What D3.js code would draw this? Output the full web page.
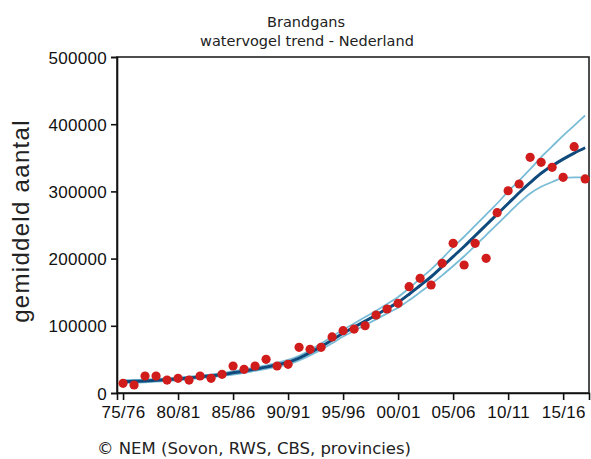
<!DOCTYPE html>
<html>
<head>
<meta charset="utf-8">
<script src="https://cdn.jsdelivr.net/npm/d3@7"></script>
<style>
  body { margin: 0; background: #fff; }
  svg { display: block; }
</style>
</head>
<body>
<div id="chart"></div>
<script>
// seasons 1975/76 .. 2017/18
const years = d3.range(1975, 2018)
const counts = [14400, 11900, 25300, 25300, 19300, 21900, 19300, 25300, 21900, 27800,
  40200, 35300, 40200, 50100, 40200, 42700, 68000, 65000, 68000, 83500,
  92700, 95200, 100100, 116000, 125000, 133500, 158200, 170700, 160700, 193000,
  222800, 190500, 222800, 200400, 268300, 301000, 311000, 350700, 343300, 335900,
  321000, 366500, 318500]
const trend = [17000, 17500, 18000, 19000, 20000, 21000, 22500, 24000, 25500, 27500,
  30000, 32500, 35500, 38500, 42000, 46000, 52000, 60000, 69000, 79000,
  89000, 98000, 107000, 116000, 125500, 135000, 147000, 160000, 173000, 188000,
  203000, 218000, 234000, 250000, 266000, 282000, 298000, 313000, 327000, 338000,
  348000, 357000, 365000]
const upper = [19000, 19500, 20000, 21000, 22000, 23000, 24500, 26000, 27500, 29500,
  32500, 35000, 38000, 41000, 45000, 49500, 55500, 64000, 73500, 84000,
  94000, 103500, 113000, 122500, 132500, 143000, 156000, 170000, 184000, 200000,
  217000, 232500, 249000, 265500, 282000, 300000, 316000, 333000, 351000, 367000,
  383000, 398000, 413000]
const lower = [15000, 15500, 16000, 17000, 18000, 19000, 20500, 22000, 23500, 25500,
  27500, 30000, 33000, 36000, 39000, 42500, 48500, 56000, 64500, 74000,
  84000, 92500, 101000, 109500, 118500, 127000, 138000, 150000, 162000, 175000,
  189000, 203500, 219000, 235000, 251000, 267000, 283000, 297000, 307000, 314000,
  320000, 321000, 321000]
const yTicks = [0, 100000, 200000, 300000, 400000, 500000]
const xTicks = [1975, 1980, 1985, 1990, 1995, 2000, 2005, 2010, 2015]

const width = 591, height = 459
const mLeft = 117, mRight = 589, mTop = 57, mBottom = 393

const svg = d3.select('#chart').append('svg').attr('width', width).attr('height', height)

const x = d3.scaleLinear().domain([1974.45, 2017.35]).range([mLeft, mRight])
const y = d3.scaleLinear().domain([0, 500000]).range([mBottom, mTop])

const axisFont = "'Liberation Sans', Arial, sans-serif"
const titleFont = "'DejaVu Sans', Verdana, sans-serif"

// frame
svg.append('rect').attr('x', mLeft).attr('y', mTop).attr('width', mRight - mLeft).attr('height', mBottom - mTop)
  .attr('fill', 'none').attr('stroke', '#222').attr('stroke-width', 1.6)

const yAxis = svg.append('g').attr('transform', `translate(${mLeft},0)`)
  .call(d3.axisLeft(y).tickValues(yTicks).tickSize(6).tickPadding(4).tickFormat(d3.format('d')))
const xAxis = svg.append('g').attr('transform', `translate(0,${mBottom})`)
  .call(d3.axisBottom(x).tickValues(xTicks).tickSize(7).tickPadding(6)
    .tickFormat(d => String(d % 100).padStart(2, '0') + '/' + String((d + 1) % 100).padStart(2, '0')))
for (const a of [yAxis, xAxis]) {
  a.select('.domain').attr('stroke', '#111').attr('stroke-width', 1.6)
  a.selectAll('.tick line').attr('stroke', '#111').attr('stroke-width', 1.6)
  a.selectAll('.tick text').attr('fill', '#111').style('font-family', axisFont)
    .style('font-size', '17px').style('letter-spacing', '0.3px')
}
yAxis.selectAll('.tick text').attr('dy', '0.36em')

// trend lines
const line = vals => d3.line().x((d, i) => x(years[i])).y(d => y(d)).curve(d3.curveMonotoneX)(vals)
svg.append('path').attr('d', line(upper)).attr('fill', 'none').attr('stroke', '#78bcd6').attr('stroke-width', 1.8)
svg.append('path').attr('d', line(lower)).attr('fill', 'none').attr('stroke', '#78bcd6').attr('stroke-width', 1.8)
svg.append('path').attr('d', line(trend)).attr('fill', 'none').attr('stroke', '#0f4a7c').attr('stroke-width', 3)

// observed counts
svg.append('g').selectAll('circle').data(counts).join('circle')
  .attr('cx', (d, i) => x(years[i])).attr('cy', d => y(d)).attr('r', 4.6)
  .attr('fill', '#d11c1c')

// titles
svg.append('text').attr('x', 306).attr('y', 27).attr('text-anchor', 'middle')
  .style('font-family', titleFont).style('font-size', '14.5px').attr('fill', '#222').text('Brandgans')
svg.append('text').attr('x', 307).attr('y', 46).attr('text-anchor', 'middle')
  .style('font-family', titleFont).style('font-size', '14.5px').attr('fill', '#222').text('watervogel trend - Nederland')

svg.append('text').attr('transform', 'translate(29,221) rotate(-90)').attr('text-anchor', 'middle')
  .style('font-family', axisFont).style('font-size', '24px').style('letter-spacing', '1.3px')
  .attr('fill', '#222').text('gemiddeld aantal')

svg.append('text').attr('x', 97).attr('y', 454)
  .style('font-family', titleFont).style('font-size', '16.5px').attr('fill', '#222')
  .text('© NEM (Sovon, RWS, CBS, provincies)')
</script>
</body>
</html>
